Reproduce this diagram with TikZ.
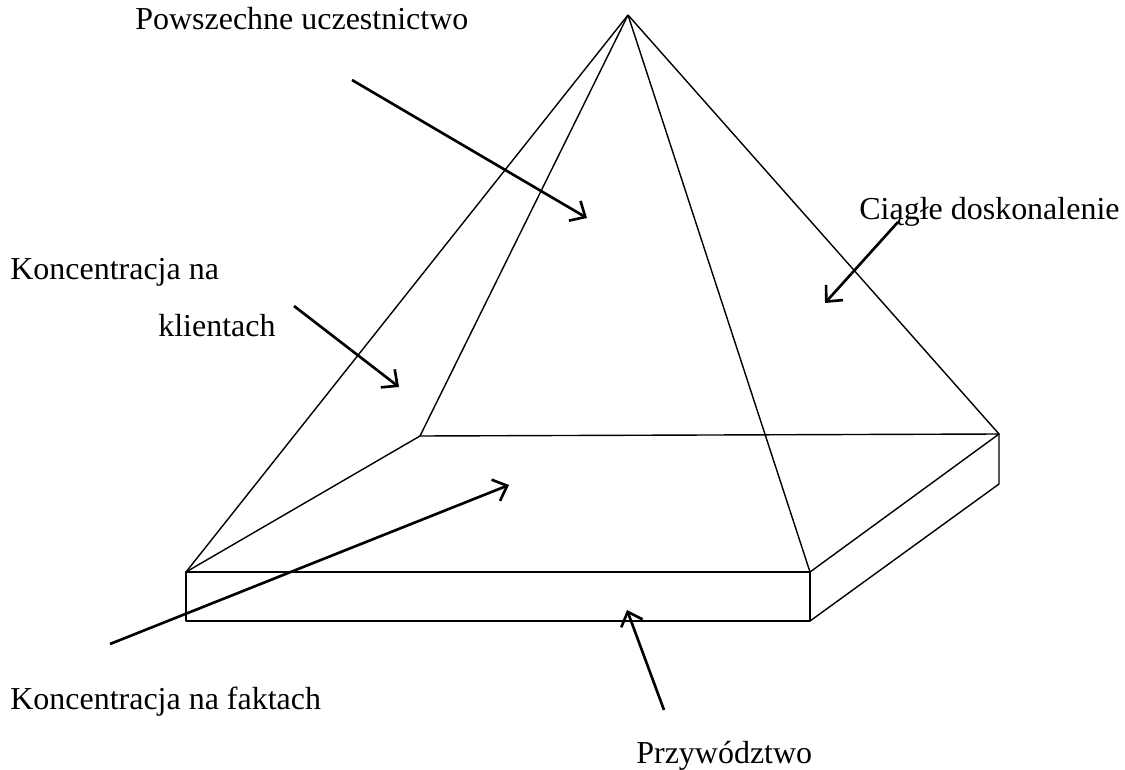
\documentclass[tikz,border=0pt]{standalone}
\usepackage{fontspec}
\setmainfont{Liberation Serif}
\usetikzlibrary{arrows.meta}
\begin{document}
\begin{tikzpicture}[x=0.02cm,y=-0.02cm,
  edge/.style={line width=0.8pt,line join=round},
  pointer/.style={line width=1.5pt,-{Straight Barb[length=7pt,width=13pt,line width=1.5pt]}},
  label/.style={anchor=base west,inner sep=0pt,font=\fontsize{18.2}{22}\selectfont}]
\useasboundingbox (0,0) rectangle (1125,770);
% pyramid points
\coordinate (apex) at (628,15);
\coordinate (bl) at (420,436);
\coordinate (br) at (999,434);
\coordinate (fl) at (186,572);
\coordinate (fr) at (810,572);
\coordinate (flb) at (186,621);
\coordinate (frb) at (810,621);
\coordinate (brb) at (999,484);
% edges
\draw[edge] (apex) -- (fl);
\draw[edge] (apex) -- (bl);
\draw[edge] (apex) -- (fr);
\draw[edge] (apex) -- (br);
\draw[edge] (fl) -- (bl) -- (br) -- (fr);
\draw[edge] (fl) rectangle (frb);
\draw[edge] (br) -- (brb) -- (frb);
% labels
\node[label] (pu) at (135,30) {Powszechne uczestnictwo};
\node[label] (cd) at (859,219) {Ciągłe doskonalenie};
\node[label] (kk1) at (10,279) {Koncentracja na};
\node[label] (kk2) at (158,336) {klientach};
\node[label] (kf) at (10,709) {Koncentracja na faktach};
\node[label] (pr) at (636,763) {Przywództwo};
% arrow ends
\coordinate (a1s) at (352,80);  \coordinate (a1e) at (587,218);
\coordinate (a2s) at (898,222); \coordinate (a2e) at (825,303);
\coordinate (a3s) at (294,306); \coordinate (a3e) at (399,387);
\coordinate (a4s) at (110,644); \coordinate (a4e) at (509,485);
\coordinate (a5s) at (664,710); \coordinate (a5e) at (627,610);
\draw[pointer] (a1s) -- (a1e);
\draw[pointer] (a2s) -- (a2e);
\draw[pointer] (a3s) -- (a3e);
\draw[pointer] (a4s) -- (a4e);
\draw[pointer] (a5s) -- (a5e);
\end{tikzpicture}
\end{document}
